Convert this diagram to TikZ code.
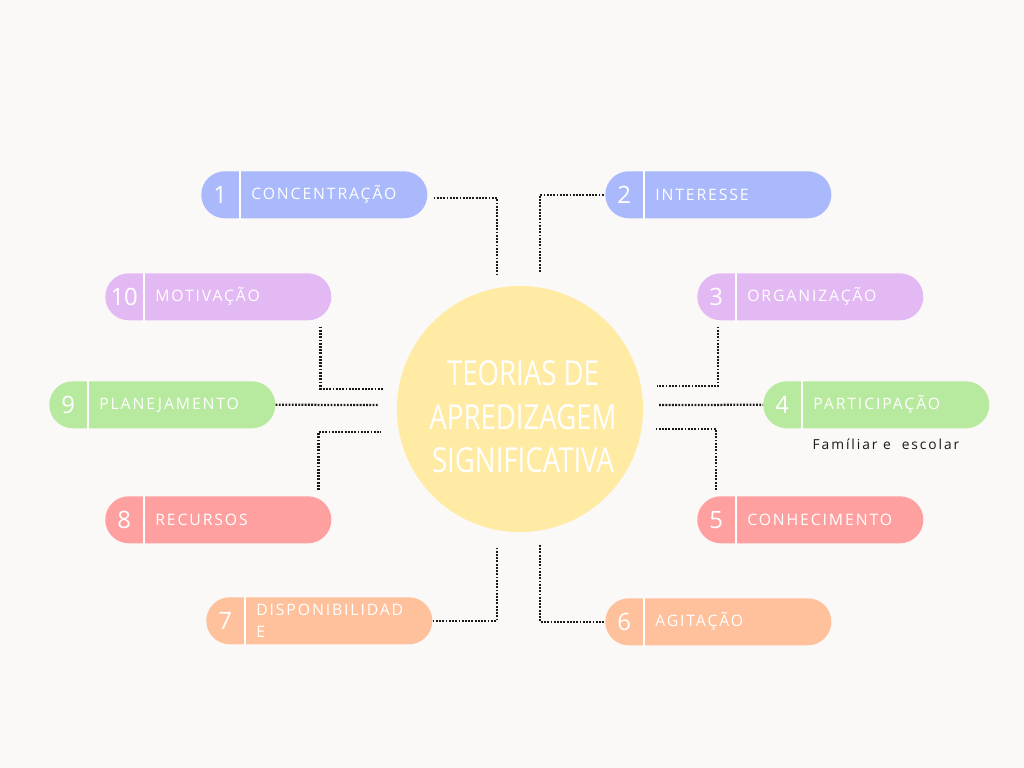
\documentclass[tikz,border=0pt]{standalone}
\usepackage{fontspec}
\setmainfont{Open Sans}
\newfontfamily\pillfont[LetterSpace=12]{Open Sans}
\newfontfamily\titlefont[FakeStretch=0.8]{Open Sans}
\newfontfamily\subfont[LetterSpace=14]{Open Sans}
\usepackage{tikz}

\definecolor{bgcol}{HTML}{FAF9F7}
\definecolor{pblue}{HTML}{AAB9FC}
\definecolor{ppurple}{HTML}{E3B9F3}
\definecolor{pgreen}{HTML}{B7E99F}
\definecolor{pred}{HTML}{FFA0A0}
\definecolor{porange}{HTML}{FFC19B}
\definecolor{pyellow}{HTML}{FFEBA3}

\tikzset{
  pill/.style={rectangle, rounded corners=0.5875cm, minimum width=5.65cm, minimum height=1.175cm, inner sep=0pt},
  num/.style={text=white, font=\fontsize{17}{19}\selectfont},
  lbl/.style={text=white, font=\pillfont\fontsize{11.2}{15}\selectfont, align=left, inner sep=0pt},
  dots/.style={line width=1.6pt, dash pattern=on 1.3pt off 1pt, black!90}
}

\begin{document}
\begin{tikzpicture}[x=0.025cm, y=-0.025cm]
  % fundo
  \fill[bgcol] (0,0) rectangle (1024,768);
  \useasboundingbox (0,0) rectangle (1024,768);

  % circulo central
  \node[circle, fill=pyellow, minimum size=6.15cm, inner sep=0pt] (centro) at (520,409) {};
  \node[text=white, align=center, font=\titlefont\fontsize{24.5}{31}\selectfont] (titulo) at (523,417)
    {TEORIAS DE\\APREDIZAGEM\\SIGNIFICATIVA};

  % blocos numerados
  \foreach \n/\x/\y/\c/\t in {1/201/171/pblue/CONCENTRAÇÃO, 2/605/171/pblue/INTERESSE,
      3/697/273/ppurple/ORGANIZAÇÃO, 4/763/381/pgreen/PARTICIPAÇÃO,
      5/697/496/pred/CONHECIMENTO, 6/605/598/porange/AGITAÇÃO,
      7/206/597/porange/{DISPONIBILIDAD\\E}, 8/105/496/pred/RECURSOS,
      9/49/381/pgreen/PLANEJAMENTO, 10/105/273/ppurple/MOTIVAÇÃO} {
    \node[pill, fill=\c, anchor=north west] (p\n) at (\x,\y) {};
    \draw[white, line width=1.4pt] ([xshift=0.975cm]p\n.north west) -- ([xshift=0.975cm]p\n.south west);
    \node[num] (n\n) at ([xshift=0.48cm]p\n.west) {\n};
    \node[lbl, anchor=west] (t\n) at ([xshift=1.25cm]p\n.west) {\t};
  }

  % texto extra
  \node[font=\subfont\fontsize{9.8}{11}\selectfont, text=black!90] (sub4) at (886,444) {Famíliar e\ \ escolar};

  % pontos junto ao circulo
  \coordinate (c1) at (497,275);
  \coordinate (c2) at (540,272);
  \coordinate (c3) at (657,386);
  \coordinate (c4) at (659,405);
  \coordinate (c5) at (655,429);
  \coordinate (c6) at (540,545);
  \coordinate (c7) at (497,547);
  \coordinate (c8) at (381,432);
  \coordinate (c9) at (379,405);
  \coordinate (c10) at (383,389);

  % ligacoes pontilhadas
  \draw[dots] ([xshift=0.15cm, yshift=-0.08cm]p1.east) -| (c1);
  \draw[dots] (c2) |- (p2.west);
  \draw[dots] ([xshift=0.525cm, yshift=-0.15cm]p3.south west) |- (c3);
  \draw[dots] (c4) -- (p4.west);
  \draw[dots] ([xshift=0.475cm, yshift=0.15cm]p5.north west) |- (c5);
  \draw[dots] (c6) |- (p6.west);
  \draw[dots] (p7.east) -| (c7);
  \draw[dots] ([xshift=-0.325cm, yshift=0.15cm]p8.north east) |- (c8);
  \draw[dots] (p9.east) -- (c9);
  \draw[dots] ([xshift=-0.275cm, yshift=-0.15cm]p10.south east) |- (c10);
\end{tikzpicture}
\end{document}
